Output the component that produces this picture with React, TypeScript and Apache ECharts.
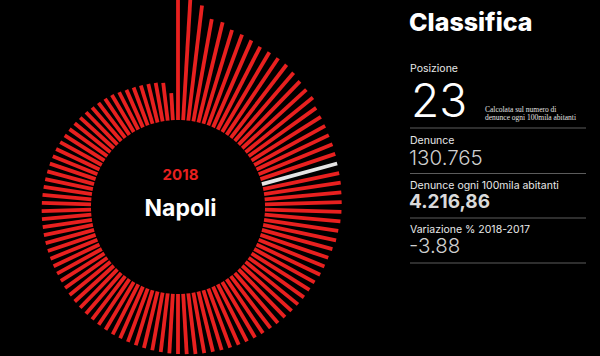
import React, { useEffect, useRef } from "react";
import * as echarts from "echarts";

// Ranking of provinces (rank labels) and complaints per 100k inhabitants, 2018
const ranks: string[] = Array.from({ length: 106 }, (_, i) => String(i + 1));
const rates: number[] = [
  7017, 6600, 6270, 5620, 5570, 5300, 5240, 5140, 5030, 5010,
  4990, 4970, 4870, 4760, 4700, 4690, 4490, 4430, 4380, 4330,
  4310, 4270, 4216.86, 4200, 4190, 4160, 4150, 4136, 4110, 4055,
  4030, 3950, 3870, 3840, 3810, 3730, 3700, 3676, 3650, 3620,
  3595, 3570, 3540, 3515, 3490, 3460, 3435, 3405, 3380, 3350,
  3325, 3300, 3270, 3245, 3220, 3190, 3165, 3135, 3110, 3080,
  3055, 3030, 3000, 2975, 2945, 2920, 2890, 2865, 2840, 2810,
  2785, 2760, 2745, 2735, 2725, 2715, 2705, 2690, 2680, 2670,
  2660, 2650, 2640, 2630, 2620, 2610, 2600, 2595, 2570, 2540,
  2515, 2490, 2460, 2435, 2405, 2380, 2350, 2325, 2270, 2215,
  2190, 2165, 2135, 2110, 2055, 1460,
];
const highlightIndex = 22;

const yearLabel = "2018";
const cityLabel = "Napoli";
const panelTitle = "Classifica";
const positionLabel = "Posizione";
const positionValue = "23";
const positionNote = ["Calcolata sul numero di", "denunce ogni 100mila abitanti"];
const denunceLabel = "Denunce";
const denunceValue = "130.765";
const rateLabel = "Denunce ogni 100mila abitanti";
const rateValue = "4.216,86";
const changeLabel = "Variazione % 2018-2017";
const changeValue = "-3.88";

const RED = "#e8201f";
const HL = "#e4e4e4";
const FONT = "Inter, Roboto, sans-serif";

export default function App() {
  const ref = useRef<HTMLDivElement>(null);
  useEffect(() => {
    document.body.style.margin = "0";
    document.body.style.background = "#000";
    if (!ref.current) return;
    const chart = echarts.init(ref.current, undefined, { renderer: "svg" });
    const innerR = 87;
    const maxV = 7500;
    const k = 78 / 4216.86;
    const outerR = innerR + maxV * k;
    const lineX1 = 410;
    const lineX2 = 586;
    const sep = (y: number) => ({
      type: "line",
      shape: { x1: lineX1, y1: y, x2: lineX2, y2: y },
      style: { stroke: "#5c5c5c", lineWidth: 1 },
      silent: true,
    });
    const txt = (
      text: string,
      x: number,
      y: number,
      size: number,
      weight: any,
      fill: string,
      align = "left",
      family = FONT
    ) => ({
      type: "text",
      x,
      y,
      silent: true,
      style: {
        text,
        fill,
        fontSize: size,
        fontWeight: weight,
        fontFamily: family,
        textAlign: align,
        textVerticalAlign: "middle",
      },
    });
    chart.setOption({
      animation: false,
      backgroundColor: "#000",
      polar: { center: [178, 207], radius: [innerR, outerR] },
      angleAxis: {
        type: "category",
        data: ranks,
        startAngle: 90 + 180 / ranks.length,
        clockwise: true,
        axisLine: { show: false },
        axisTick: { show: false },
        axisLabel: { show: false },
        splitLine: { show: false },
      },
      radiusAxis: {
        type: "value",
        min: 0,
        max: maxV,
        axisLine: { show: false },
        axisTick: { show: false },
        axisLabel: { show: false },
        splitLine: { show: false },
      },
      series: [
        {
          type: "custom",
          coordinateSystem: "polar",
          data: rates.map((v, i) => [v, i]),
          renderItem: (params: any, api: any) => {
            const i = params.dataIndex;
            const v = api.value(0);
            const p0 = api.coord([0, i]);
            const p1 = api.coord([v, i]);
            return {
              type: "line",
              shape: { x1: p0[0], y1: p0[1], x2: p1[0], y2: p1[1] },
              style: {
                stroke: i === highlightIndex ? HL : RED,
                lineWidth: 3.8,
              },
            };
          },
        },
      ],
      graphic: [
        txt(yearLabel, 180.5, 174, 15, "bold", RED, "center"),
        txt(cityLabel, 180.5, 208, 23, "bold", "#ffffff", "center"),
        txt(panelTitle, 409, 22, 25, 800, "#ffffff"),
        txt(positionLabel, 410, 68, 10.5, "normal", "#e8e8e8"),
        txt(positionValue, 411, 99.5, 46, 300, "#ffffff"),
        txt(positionNote[0], 485, 109, 7.5, "normal", "#e0e0e0", "left", "'Liberation Serif', serif"),
        txt(positionNote[1], 485, 117.5, 7.5, "normal", "#e0e0e0", "left", "'Liberation Serif', serif"),
        sep(128),
        txt(denunceLabel, 410, 140.5, 10.5, "normal", "#e8e8e8"),
        txt(denunceValue, 409, 157.5, 20.5, 300, "#cfcfcf"),
        sep(173.5),
        txt(rateLabel, 410, 185, 10.5, "normal", "#e8e8e8"),
        txt(rateValue, 409, 201.5, 19, "bold", "#dadada"),
        sep(218),
        txt(changeLabel, 410, 229.5, 10.5, "normal", "#e8e8e8"),
        txt(changeValue, 409, 245.5, 20.5, 300, "#cfcfcf"),
        sep(263),
      ],
    });
    return () => chart.dispose();
  }, []);
  return <div ref={ref} style={{ width: 600, height: 356, background: "#000" }} />;
}
